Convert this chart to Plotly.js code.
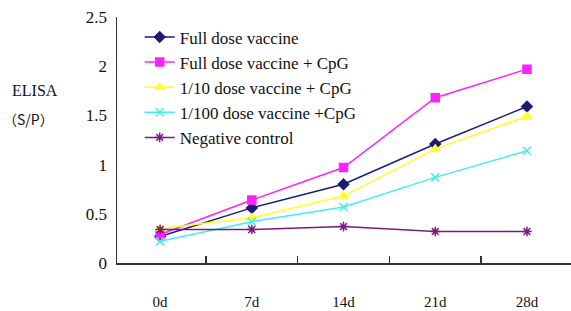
<!DOCTYPE html>
<html>
<head>
<meta charset="utf-8">
<script src="https://cdn.plot.ly/plotly-3.0.1.min.js"></script>
<style>html,body{margin:0;padding:0;background:#fff;}#chart{width:571px;height:311px;}</style>
</head>
<body>
<div id="chart"></div>
<script>
const days = ["0d", "7d", "14d", "21d", "28d"];
const seriesNames = ["Full dose vaccine", "Full dose vaccine + CpG", "1/10 dose vaccine + CpG", "1/100 dose vaccine +CpG", "Negative control"];
const fullDose = [0.27, 0.56, 0.80, 1.21, 1.59];
const fullDoseCpG = [0.29, 0.64, 0.97, 1.68, 1.97];
const tenthDoseCpG = [0.35, 0.46, 0.68, 1.16, 1.49];
const hundredthDoseCpG = [0.22, 0.42, 0.57, 0.87, 1.14];
const negativeControl = [0.34, 0.34, 0.37, 0.32, 0.32];
const yTicks = [0, 0.5, 1, 1.5, 2, 2.5];
const yTickText = ["0", "0.5", "1", "1.5", "2", "2.5"];

const colors = ["#1b1b7a", "#ff22ff", "#ffff22", "#44eeee", "#7a1a7a"];
const symbols = ["diamond", "square", "triangle-up", "x-thin-open", "asterisk-open"];
const values = [fullDose, fullDoseCpG, tenthDoseCpG, hundredthDoseCpG, negativeControl];

const traces = values.map((v, i) => ({
  type: "scatter",
  mode: "lines+markers",
  x: days,
  y: v,
  name: seriesNames[i],
  line: {color: colors[i], width: 1.5},
  marker: {symbol: symbols[i], size: 8, color: colors[i], line: {color: colors[i], width: 1.5}}
}));

const serif = "Liberation Serif, DejaVu Serif, serif";
const layout = {
  width: 571, height: 311,
  margin: {l: 117, r: 0, t: 17, b: 48},
  paper_bgcolor: "#fff", plot_bgcolor: "#fff",
  showlegend: true,
  legend: {
    x: 0.05, y: 0.99, xanchor: "left", yanchor: "top",
    bgcolor: "rgba(0,0,0,0)",
    font: {family: serif, size: 17, color: "#111"},
    itemwidth: 30, tracegroupgap: 0
  },
  xaxis: {
    type: "category",
    range: [-0.47, 4.48],
    showline: true, linecolor: "#333", linewidth: 1.5,
    ticks: "inside", tickson: "boundaries", ticklen: 7, tickcolor: "#333", tickwidth: 1.5,
    showgrid: false, zeroline: false,
    tickfont: {family: serif, size: 15, color: "#111"},
    ticklabelstandoff: 24
  },
  yaxis: {
    range: [0, 2.5],
    tickvals: yTicks, ticktext: yTickText,
    showline: true, linecolor: "#333", linewidth: 1.5,
    ticks: "", showgrid: false, zeroline: false,
    tickfont: {family: serif, size: 17, color: "#111"},
    ticklabelstandoff: 5
  },
  annotations: [
    {text: "ELISA", xref: "paper", yref: "paper", x: -0.236, y: 0.7, xanchor: "left", yanchor: "middle", showarrow: false, font: {family: serif, size: 16, color: "#111"}},
    {text: "（S/P）", xref: "paper", yref: "paper", x: -0.255, y: 0.585, xanchor: "left", yanchor: "middle", showarrow: false, font: {family: "Noto Sans CJK SC, serif", size: 14, color: "#111"}}
  ]
};

Plotly.newPlot("chart", traces, layout, {displayModeBar: false, staticPlot: true});
</script>
</body>
</html>
